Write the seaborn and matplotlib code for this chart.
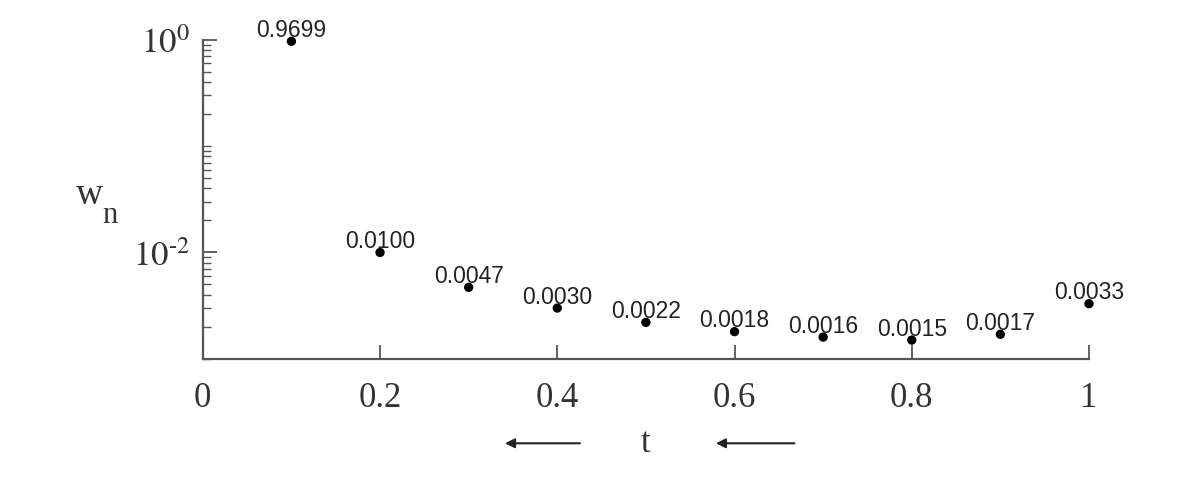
import matplotlib
matplotlib.use("Agg")
import matplotlib.pyplot as plt
from matplotlib.ticker import LogLocator, NullFormatter
import seaborn as sns
import pandas as pd

# values
t_vals = [0.1, 0.2, 0.3, 0.4, 0.5, 0.6, 0.7, 0.8, 0.9, 1.0]
w_vals = [0.9699, 0.0100, 0.0047, 0.0030, 0.0022, 0.0018, 0.0016, 0.0015, 0.0017, 0.0033]
w_labels = ["0.9699", "0.0100", "0.0047", "0.0030", "0.0022",
            "0.0018", "0.0016", "0.0015", "0.0017", "0.0033"]
x_ticks = [0, 0.2, 0.4, 0.6, 0.8, 1.0]
x_ticklabels = ["0", "0.2", "0.4", "0.6", "0.8", "1"]
y_ticks = [1.0, 0.01]
y_ticklabels = [r"$10^{0}$", r"$10^{\text{-}2}$"]

df = pd.DataFrame({"t": t_vals, "w": w_vals})

sns.set_style("ticks")
plt.rcParams["font.family"] = ["Liberation Serif", "DejaVu Serif"]
plt.rcParams["mathtext.fontset"] = "stix"

axcol = "#555555"

fig = plt.figure(figsize=(12, 4.81), dpi=100)
ax = fig.add_axes([0.169, 0.252, 0.7385, 0.663])

sns.scatterplot(data=df, x="t", y="w", ax=ax, color="black", s=45,
                edgecolor="none", clip_on=False, zorder=3)

ax.set_yscale("log")
ax.set_xlim(0, 1)
ax.set_ylim(0.001, 1.0)

ax.set_xticks(x_ticks)
ax.set_xticklabels(x_ticklabels)
ax.set_yticks(y_ticks)
ax.set_yticklabels(y_ticklabels)
ax.yaxis.set_minor_locator(LogLocator(base=10, subs=range(1, 10), numticks=20))
ax.yaxis.set_minor_formatter(NullFormatter())

ax.tick_params(axis="x", which="major", direction="in", length=10, width=1.3,
               color=axcol, labelsize=25, labelcolor="#333333", pad=16)
ax.tick_params(axis="y", which="major", direction="in", length=10, width=1.3,
               color=axcol, labelsize=25, labelcolor="#333333", pad=9)
ax.tick_params(axis="y", which="minor", direction="in", length=6, width=1.0,
               color=axcol)

sns.despine(ax=ax)
for side in ["left", "bottom"]:
    ax.spines[side].set_color(axcol)
    ax.spines[side].set_linewidth(1.6)

ax.set_xlabel("")
ax.set_ylabel("")

for x, y, lab in zip(t_vals, w_vals, w_labels):
    ax.annotate(lab, (x, y), xytext=(0, 4), textcoords="offset points",
                ha="center", va="baseline", fontsize=16.5, color="#222222",
                family=["Liberation Sans", "DejaVu Sans"])

# axis titles
ax.text(-0.128, 0.49, "w", transform=ax.transAxes, fontsize=27,
        ha="center", va="baseline", color="#333333")
ax.text(-0.105, 0.428, "n", transform=ax.transAxes, fontsize=22,
        ha="center", va="baseline", color="#333333")
ax.text(0.4995, -0.262, "t", transform=ax.transAxes, fontsize=25,
        ha="center", va="center", color="#333333")

for x0, x1 in [(0.4255, 0.341), (0.6675, 0.579)]:
    ax.annotate("", xy=(x1, -0.265), xytext=(x0, -0.265),
                xycoords="axes fraction", textcoords="axes fraction",
                arrowprops=dict(arrowstyle="-|>", color="#222222", lw=1.5,
                                mutation_scale=14, shrinkA=0, shrinkB=0))

fig.savefig("out.png", dpi=100)
